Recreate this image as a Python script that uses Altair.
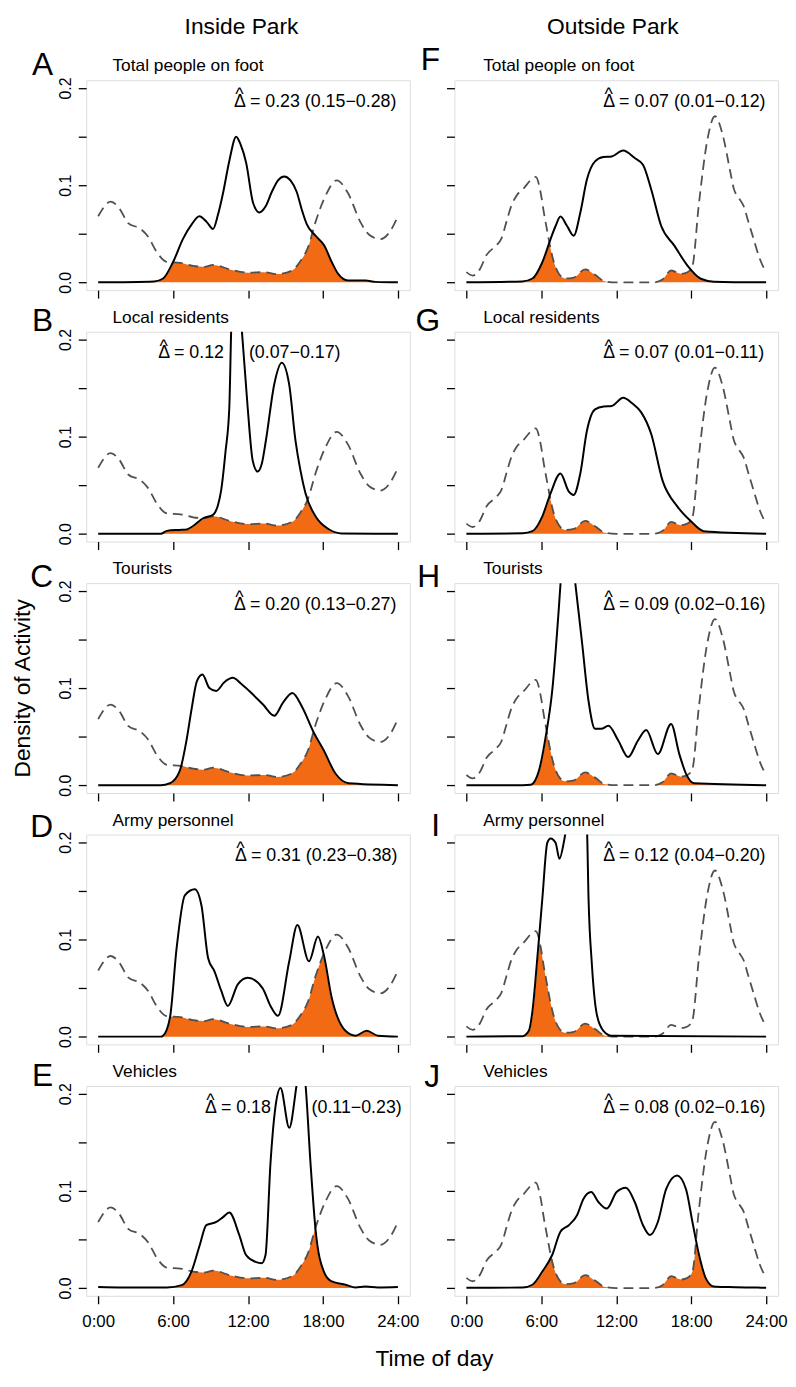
import altair as alt
import pandas as pd

# ---------------- data ----------------
# dashed curves (tiger activity), one for inside and one for outside the park
tiger_in_hours = [0, 1.0, 1.7, 2.4, 3.4, 4.0, 4.7, 5.5, 6.6, 7.6, 8.5, 9.2, 10.6, 12.0, 13.3, 14.3,
                  15.5, 16.2, 16.8, 17.4, 18.2, 19.1, 20.0, 21.0, 21.7, 22.6, 23.4, 24]
tiger_in_dens = [0.068, 0.083, 0.076, 0.061, 0.055, 0.047, 0.031, 0.021, 0.020, 0.017, 0.016, 0.018,
                 0.013, 0.010, 0.0105, 0.0085, 0.012, 0.022, 0.036, 0.062, 0.089, 0.105, 0.092, 0.062,
                 0.049, 0.0445, 0.053, 0.068]

tiger_out_hours = [0, 0.5, 1.1, 1.6, 2.4, 2.8, 3.2, 3.6, 4.0, 4.6, 5.3, 5.55, 5.95, 6.2, 6.5, 6.75,
                   7.0, 7.4, 7.9, 8.6, 9.5, 10.3, 11.1, 12.0, 15.0, 15.7, 16.4, 17.2, 17.7, 18.1,
                   18.6, 19.3, 19.9, 20.5, 21.15, 21.4, 21.8, 22.2, 22.6, 23.0, 23.5, 24]
tiger_out_dens = [0.0105, 0.007, 0.014, 0.028, 0.038, 0.045, 0.062, 0.079, 0.089, 0.097, 0.107, 0.1085,
                  0.092, 0.072, 0.051, 0.034, 0.021, 0.009, 0.004, 0.005, 0.0133, 0.0078, 0.001, 0,
                  0, 0.003, 0.0122, 0.0088, 0.0105, 0.017, 0.0786, 0.147, 0.171, 0.153, 0.1126,
                  0.097, 0.087, 0.0786, 0.0615, 0.0446, 0.024, 0.0105]

# solid curves (human activity), one per panel
hours_A = [0, 4.5, 5.2, 6.0, 6.8, 7.5, 8.1, 8.7, 9.2, 9.6, 10.0, 10.5, 11.05, 11.4, 11.85, 12.4, 12.9,
           13.4, 13.9, 14.4, 14.9, 15.4, 15.9, 16.3, 16.7, 17.4, 18.1, 18.7, 19.2, 20.0, 21.4, 22.2, 24]
dens_A = [0, 0.001, 0.004, 0.021, 0.045, 0.060, 0.068, 0.062, 0.055, 0.070, 0.092, 0.125, 0.150, 0.142,
          0.123, 0.082, 0.072, 0.078, 0.093, 0.105, 0.109, 0.105, 0.093, 0.075, 0.060, 0.048, 0.038,
          0.021, 0.009, 0.002, 0.002, 0.0005, 0]

hours_B = [0, 5.0, 5.5, 6.5, 7.1, 7.6, 8.4, 9.2, 9.6, 9.85, 10.2, 10.5, 10.65, 11.05, 11.5, 11.97,
           12.37, 12.77, 13.1, 13.43, 14.1, 14.7, 15.29, 15.8, 16.2, 16.6, 17.4, 18.5, 19.5, 24]
dens_B = [0, 0, 0.003, 0.004, 0.0045, 0.008, 0.016, 0.0196, 0.030, 0.045, 0.085, 0.13, 0.21, 0.30,
          0.21, 0.13, 0.0756, 0.064, 0.072, 0.096, 0.154, 0.176, 0.154, 0.096, 0.065, 0.0417, 0.018,
          0.0044, 0.0003, 0]

hours_C = [0, 5.0, 5.75, 6.54, 7.07, 7.5, 7.9, 8.35, 8.9, 9.45, 10.1, 10.78, 11.4, 12.1, 13.2, 14.1,
           14.8, 15.55, 16.35, 17.27, 18.07, 19.0, 20.05, 24]
dens_C = [0, 0, 0.002, 0.015, 0.046, 0.080, 0.107, 0.114, 0.100, 0.097, 0.106, 0.1105, 0.105, 0.097,
          0.083, 0.0714, 0.085, 0.095, 0.080, 0.054, 0.0357, 0.012, 0.002, 0]

hours_D = [0, 5.0, 5.2, 5.75, 6.28, 6.94, 7.74, 8.27, 8.8, 9.32, 9.86, 10.38, 11.18, 11.97, 13.16,
           13.8, 14.4, 15.3, 15.95, 16.88, 17.6, 18.07, 18.7, 19.8, 20.6, 21.5, 22.4, 24]
dens_D = [0, 0, 0.001, 0.0197, 0.091, 0.1455, 0.1517, 0.135, 0.081, 0.067, 0.047, 0.0316, 0.0537,
          0.0605, 0.050, 0.0316, 0.0214, 0.0776, 0.1149, 0.0776, 0.103, 0.084, 0.040, 0.006, 0.001,
          0.006, 0.001, 0]

hours_E = [0, 2.0, 4.0, 5.5, 6.7, 7.47, 8.13, 8.66, 9.46, 10.0, 10.5, 11.3, 11.84, 12.6, 13.1, 13.4,
           13.8, 14.2, 14.6, 15.3, 15.9, 16.25, 16.6, 17.0, 17.4, 18.07, 18.7, 19.8, 20.6, 21.4, 22.4, 24]
dens_E = [0.001, 0.0005, 0.0005, 0.0005, 0.003, 0.017, 0.044, 0.0647, 0.068, 0.073, 0.0777, 0.0545,
          0.034, 0.027, 0.0256, 0.034, 0.129, 0.187, 0.206, 0.165, 0.21, 0.24, 0.21, 0.129, 0.061,
          0.017, 0.0068, 0.0034, 0.0005, 0.0015, 0.0005, 0.001]

hours_F = [0, 4.5, 5.29, 6.08, 6.74, 7.14, 7.53, 8.06, 8.59, 9.12, 9.65, 10.3, 10.97, 11.63, 12.55,
           13.48, 14.14, 14.8, 15.6, 16.65, 17.7, 18.77, 19.8, 24]
dens_F = [0, 0.001, 0.004, 0.0207, 0.0446, 0.058, 0.0677, 0.058, 0.048, 0.0717, 0.1058, 0.1245, 0.129,
          0.1296, 0.1357, 0.128, 0.121, 0.0956, 0.058, 0.0378, 0.0173, 0.0037, 0.0007, 0]

hours_G = [0, 4.5, 5.29, 6.08, 6.74, 7.53, 8.2, 8.59, 9.12, 9.65, 10.3, 11.0, 11.63, 12.55, 13.3,
           14.0, 14.8, 15.7, 16.9, 17.98, 19.0, 24]
dens_G = [0, 0.0005, 0.0027, 0.018, 0.0417, 0.062, 0.0434, 0.040, 0.062, 0.106, 0.128, 0.131, 0.1315,
          0.140, 0.134, 0.125, 0.1027, 0.055, 0.028, 0.0129, 0.0027, 0]

hours_H = [0, 4.5, 5.15, 5.81, 6.34, 6.87, 7.4, 7.55, 8.1, 8.7, 9.25, 9.78, 10.3, 10.8, 11.37, 12.16,
           12.95, 13.74, 14.4, 15.33, 16.39, 17.05, 17.58, 18.24, 24]
dens_H = [0, 0, 0.0005, 0.015, 0.0493, 0.097, 0.182, 0.21, 0.28, 0.21, 0.148, 0.0867, 0.058, 0.058,
          0.0612, 0.046, 0.029, 0.046, 0.0568, 0.032, 0.063, 0.032, 0.012, 0.002, 0]

hours_I = [0, 4.5, 5.0, 5.29, 5.68, 6.08, 6.48, 6.74, 7.14, 7.45, 7.8, 8.0, 8.8, 9.65, 9.78, 10.05,
           10.44, 10.97, 11.63, 24]
dens_I = [0, 0.0005, 0.006, 0.0265, 0.081, 0.142, 0.1996, 0.204, 0.1996, 0.183, 0.200, 0.215, 0.30,
          0.215, 0.142, 0.074, 0.023, 0.006, 0.001, 0]

hours_J = [0, 4.5, 5.29, 6.08, 6.87, 7.53, 8.2, 8.86, 9.38, 9.99, 10.57, 11.24, 12.03, 12.77, 13.48,
           14.14, 14.7, 15.33, 16.0, 16.87, 17.58, 18.1, 18.63, 19.17, 19.8, 21.0, 23.3, 24]
dens_J = [0.0003, 0.0005, 0.0034, 0.017, 0.034, 0.058, 0.0647, 0.075, 0.092, 0.0988, 0.0886, 0.0818,
          0.0988, 0.1033, 0.0886, 0.0647, 0.0545, 0.068, 0.102, 0.1158, 0.102, 0.068, 0.034, 0.010,
          0.0017, 0.001, 0.0005, 0.0003]

panel_letters = ["A", "B", "C", "D", "E", "F", "G", "H", "I", "J"]
panel_groups = ["Total people on foot", "Local residents", "Tourists", "Army personnel", "Vehicles"] * 2
delta_est = ["0.23", "0.12", "0.20", "0.31", "0.18", "0.07", "0.07", "0.09", "0.12", "0.08"]
delta_ci = ["0.15\u22120.28", "0.07\u22120.17", "0.13\u22120.27", "0.23\u22120.38", "0.11\u22120.23",
            "0.01\u22120.12", "0.01\u22120.11", "0.02\u22120.16", "0.04\u22120.20", "0.02\u22120.16"]
x_tick_hours = [0, 6, 12, 18, 24]
y_tick_values = [0, 0.05, 0.1, 0.15, 0.2]
column_titles = ["Inside Park", "Outside Park"]
x_title = "Time of day"
y_title = "Density of Activity"

solid_hours = dict(zip(panel_letters, [hours_A, hours_B, hours_C, hours_D, hours_E,
                                       hours_F, hours_G, hours_H, hours_I, hours_J]))
solid_dens = dict(zip(panel_letters, [dens_A, dens_B, dens_C, dens_D, dens_E,
                                      dens_F, dens_G, dens_H, dens_I, dens_J]))

# ---------------- layout / style ----------------
FONT = "Liberation Sans"
W, H = 327, 212
XDOM = [-0.96, 24.96]
YDOM = [-0.008, 0.208]
MASK_TOP = 0.19
ORANGE = "#F26A13"
DASH_COLOR = "#505050"
DELTA_FS = 18
# panel A plot origin relative to the page-content corner (8, 8)
ORIGIN_X, ORIGIN_Y = 77.6, 65.2

delta_x = {"A": 149.4, "B": 72.7, "C": 149.4, "D": 150.4, "E": 120.1}
split_x = {"B": 164.4, "E": 227.7}
letter_y = {"A": -5, "B": -0.5, "C": 4.3, "D": 2.8, "E": 0.5,
            "F": -9.9, "G": -0.5, "H": 3.8, "I": 1.2, "J": 1.5}


def text_layer(label, x, y, size, align="left", angle=0, baseline="alphabetic"):
    return alt.Chart(pd.DataFrame({"t": [label]})).mark_text(
        align=align, baseline=baseline, fontSize=size, font=FONT, color="black", angle=angle
    ).encode(x=alt.value(x), y=alt.value(y), text="t:N")


def make_panel(i):
    key = panel_letters[i]
    col = 0 if i < 5 else 1
    row = i % 5
    solid_df = pd.DataFrame({"hour": solid_hours[key], "dens": solid_dens[key]})
    solid_df["top"] = MASK_TOP
    if col == 0:
        tiger_df = pd.DataFrame({"hour": tiger_in_hours, "dens": tiger_in_dens})
    else:
        tiger_df = pd.DataFrame({"hour": tiger_out_hours, "dens": tiger_out_dens})
    tiger_df["base"] = 0.0

    xenc = alt.X("hour:Q", scale=alt.Scale(domain=XDOM, nice=False, zero=False),
                 axis=alt.Axis(values=x_tick_hours, labels=(row == 4), title=None, grid=False,
                               domain=False, tickSize=8, tickColor="black", tickWidth=1.3,
                               labelExpr="floor(datum.value) + ':00'", labelFontSize=17,
                               labelFont=FONT, labelColor="black", labelPadding=9.5,
                               labelFlush=False, labelOverlap=False))
    yenc = alt.Y("dens:Q", scale=alt.Scale(domain=YDOM, nice=False, zero=False),
                 axis=alt.Axis(values=y_tick_values, labels=(col == 0), title=None, grid=False,
                               domain=False, tickSize=8, tickColor="black", tickWidth=1.3,
                               labelExpr="abs(datum.value*10 - round(datum.value*10)) < 0.001 ? format(datum.value, '.1f') : ''",
                               labelAngle=270, labelAlign="center", labelBaseline="alphabetic",
                               labelFontSize=16, labelFont=FONT, labelColor="black",
                               labelPadding=7.6, labelFlush=False, labelOverlap=False))

    orange = alt.Chart(tiger_df).mark_area(color=ORANGE, interpolate="monotone", clip=True).encode(
        x=xenc, y=yenc, y2="base:Q")
    mask = alt.Chart(solid_df).mark_area(color="white", stroke="white", strokeWidth=1.5,
                                         interpolate="monotone", clip=True).encode(
        x=xenc, y=yenc, y2="top:Q")
    dashed = alt.Chart(tiger_df).mark_line(color=DASH_COLOR, strokeWidth=1.8, strokeDash=[10, 6],
                                           interpolate="monotone", clip=True).encode(x=xenc, y=yenc)
    solid = alt.Chart(solid_df).mark_line(color="black", strokeWidth=2, interpolate="monotone",
                                          clip=True).encode(x=xenc, y=yenc)

    layers = [orange, mask, dashed, solid]

    # panel letter and group name
    layers.append(text_layer(key, -33.5 if col == 0 else -14.5, letter_y[key], 32, align="right"))
    layers.append(text_layer(panel_groups[i], 26.5 if col == 0 else 29, -9, 17.5))

    # overlap estimate
    dx = delta_x.get(key, 150.3)
    if key in split_x:
        layers.append(text_layer("\u0394 = " + delta_est[i], dx, 27, DELTA_FS))
        layers.append(text_layer("(" + delta_ci[i] + ")", split_x[key], 27, DELTA_FS))
    else:
        layers.append(text_layer("\u0394 = " + delta_est[i] + " (" + delta_ci[i] + ")", dx, 27, DELTA_FS))
    layers.append(text_layer("^", dx + 5.5, 20, DELTA_FS, align="center"))

    # global titles hosted by specific panels
    if key == "A":
        layers.append(text_layer(column_titles[0], 156.9, -47.2, 23, align="center"))
        # invisible anchor fixing the top-left corner of the whole figure
        layers.append(alt.Chart(pd.DataFrame({"a": [0]})).mark_rule(opacity=0).encode(
            x=alt.value(-ORIGIN_X), x2=alt.value(-ORIGIN_X + 4),
            y=alt.value(-ORIGIN_Y), y2=alt.value(-ORIGIN_Y + 4)))
    if key == "F":
        layers.append(text_layer(column_titles[1], 160, -47.2, 23, align="center"))
    if key == "C":
        layers.append(text_layer(y_title, -56.6, 106.3, 23, align="center", angle=270))
    if key == "E":
        layers.append(text_layer(x_title, 351.8, 282.8, 23, align="center"))

    return alt.layer(*layers).properties(width=W, height=H)


order = [0, 5, 1, 6, 2, 7, 3, 8, 4, 9]
panels = [make_panel(i) for i in order]

chart = alt.concat(*panels, columns=2, spacing={"row": 42, "column": 45}, bounds="flush",
                   padding=0, background="white").configure_view(
    stroke="black", strokeWidth=1.8).configure(font=FONT, padding=0)

chart.save("out.html", embed_options={"renderer": "svg", "actions": False})
